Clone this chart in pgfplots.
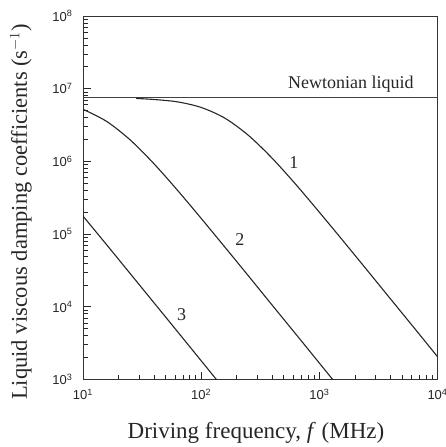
\documentclass[border=0pt]{standalone}
\usepackage{fontspec}
\setmainfont{Liberation Serif}
\newfontfamily\ticksans{Liberation Sans}
\usepackage{pgfplots}
\pgfplotsset{compat=1.18}
\begin{document}
\begin{tikzpicture}
\useasboundingbox (0pt,0pt) rectangle (446pt,447pt);
\begin{axis}[
  at={(83pt,67.5pt)}, anchor=south west,
  scale only axis, width=354.5pt, height=363.5pt,
  xmode=log, ymode=log,
  xmin=10, xmax=10000, ymin=1000, ymax=1e8,
  xtick={10,100,1000,10000},
  xticklabels={10\textsuperscript{1},10\textsuperscript{2},10\textsuperscript{3},10\textsuperscript{4}},
  ytick={1e3,1e4,1e5,1e6,1e7,1e8},
  yticklabels={10\textsuperscript{3},10\textsuperscript{4},10\textsuperscript{5},10\textsuperscript{6},10\textsuperscript{7},10\textsuperscript{8}},
  minor xtick={20,30,40,50,60,70,80,90,200,300,400,500,600,700,800,900,2000,3000,4000,5000,6000,7000,8000,9000},
  minor ytick={2e3,3e3,4e3,5e3,6e3,7e3,8e3,9e3,2e4,3e4,4e4,5e4,6e4,7e4,8e4,9e4,2e5,3e5,4e5,5e5,6e5,7e5,8e5,9e5,2e6,3e6,4e6,5e6,6e6,7e6,8e6,9e6,2e7,3e7,4e7,5e7,6e7,7e7,8e7,9e7},
  tick label style={font=\ticksans\fontsize{13}{13}\selectfont, text=black!85},
  xticklabel style={yshift=-6pt},
  yticklabel style={xshift=-7pt},
  tick pos=left,
  tick align=inside,
  major tick length=8pt, minor tick length=5pt,
  every tick/.style={black!85, line width=0.7pt},
  axis line style={black!80, line width=0.8pt},
  clip=true,
]
% Newtonian liquid
\addplot[black!75, line width=0.8pt] coordinates {(10,7.55e6) (10000,7.55e6)};
% curve 1
\addplot[black!85, line width=1.1pt, smooth] coordinates {
(28.2,7.35e6) (40,7.1e6) (63.1,6.59e6) (100,5.52e6) (158.5,3.94e6) (251.2,2.28e6)
(398.1,1.109e6) (631,4.84e5) (1000,2.00e5) (1585,8.11e4) (2512,3.25e4)
(3981,1.297e4) (6310,5.18e3) (10000,2.06e3)};
% curve 2
\addplot[black!85, line width=1.1pt, smooth] coordinates {
(10,5.21e6) (15.85,3.55e6) (25.1,1.972e6) (39.8,9.31e5) (63.1,4.00e5)
(100,1.645e5) (158.5,6.64e4) (251.2,2.66e4) (398.1,1.058e4) (631,4.23e3)
(1000,1.683e3) (1585,670)};
% curve 3
\addplot[black!85, line width=1.1pt, smooth] coordinates {
(10,1.77e5) (15.85,7.14e4) (25.1,2.86e4) (39.8,1.141e4) (63.1,4.55e3)
(100,1.811e3) (158.5,721)};
\node[anchor=base east, inner sep=0, font=\fontsize{18}{18}\selectfont, text=black!85] at (axis cs:6300,1.02e7) {Newtonian liquid};
\node[font=\fontsize{18}{18}\selectfont, text=black!85] at (axis cs:610,9.5e5) {1};
\node[font=\fontsize{18}{18}\selectfont, text=black!85] at (axis cs:213,8.5e4) {2};
\node[font=\fontsize{18}{18}\selectfont, text=black!85] at (axis cs:68.4,7.7e3) {3};
\end{axis}
\node[font=\fontsize{23}{23}\selectfont, text=black!85] at (256pt,14pt) {Driving frequency, \textit{f} (MHz)};
\node[rotate=90, font=\fontsize{22.5}{22.5}\selectfont, text=black!85] at (21pt,235pt) {Liquid viscous damping coefficients (s$^{-1}$)};
\end{tikzpicture}
\end{document}
